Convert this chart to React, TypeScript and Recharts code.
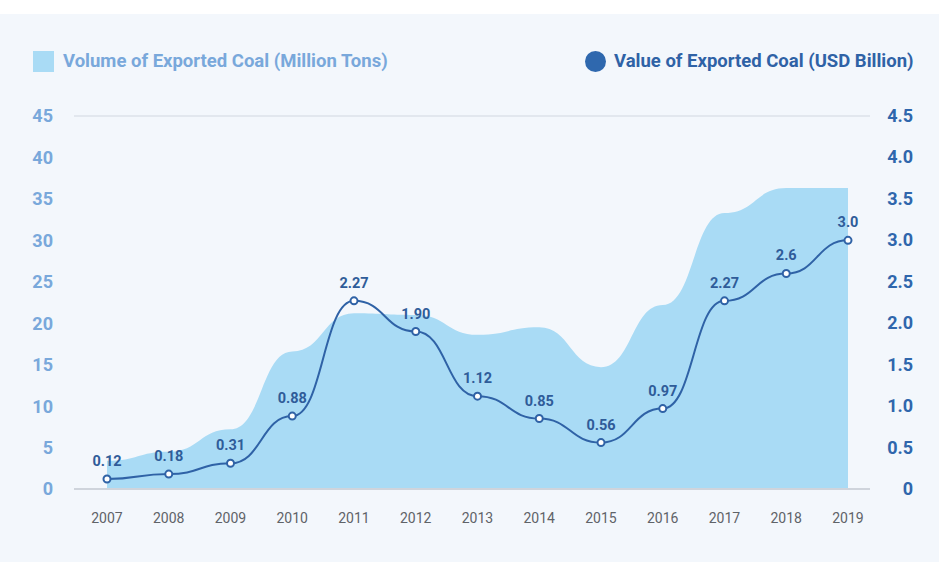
import {
  Area,
  CartesianGrid,
  ComposedChart,
  Line,
  XAxis,
  YAxis,
} from 'recharts';

const years = ['2007', '2008', '2009', '2010', '2011', '2012', '2013', '2014', '2015', '2016', '2017', '2018', '2019'];
const volume = [3.4, 4.5, 7.2, 16.6, 21.2, 21, 18.6, 19.5, 14.7, 22.2, 33.3, 36.3, 36.3];
const value = [0.12, 0.18, 0.31, 0.88, 2.27, 1.9, 1.12, 0.85, 0.56, 0.97, 2.27, 2.6, 3.0];
const valueLabels = ['0.12', '0.18', '0.31', '0.88', '2.27', '1.90', '1.12', '0.85', '0.56', '0.97', '2.27', '2.6', '3.0'];
const leftTicks = [0, 5, 10, 15, 20, 25, 30, 35, 40, 45];
const rightTicks = [0, 0.5, 1, 1.5, 2, 2.5, 3, 3.5, 4, 4.5];

const chartData = years.map((y, i) => ({
  year: y,
  volume: volume[i],
  value: value[i],
}));

const FONT = 'Roboto, "Noto Sans", sans-serif';
const AREA_COLOR = '#a9dbf5';
const LINE_COLOR = '#2f62a6';

function RightTick(props: any) {
  const { y, payload } = props;
  const v = payload.value;
  const text = v === 0 ? '0' : v.toFixed(1);
  return (
    <text x={913} y={y} dy={6} textAnchor='end' fill='#2f66ac' fontSize={18} fontWeight={700} fontFamily={FONT}>
      {text}
    </text>
  );
}

function ValueLabel(props: any) {
  const { x, y, index } = props;
  return (
    <text x={x} y={y - 13} textAnchor='middle' fill='#2f5c99' fontSize={14.5} fontWeight={700} fontFamily={FONT}>
      {valueLabels[index]}
    </text>
  );
}

export default function App() {
  return (
    <div style={{ position: 'fixed', top: 0, left: 0, width: 939, height: 562, background: '#ffffff', fontFamily: FONT }}>
      <div style={{ position: 'absolute', top: 14, left: 0, width: 939, height: 548, background: '#f3f7fc' }}>
        <div style={{ position: 'absolute', left: 33, top: 36, display: 'flex', alignItems: 'center' }}>
          <div style={{ width: 21, height: 21, background: AREA_COLOR }} />
          <span style={{ marginLeft: 9, color: '#79a8db', fontSize: 18.5, fontWeight: 700 }}>
            Volume of Exported Coal (Million Tons)
          </span>
        </div>
        <div style={{ position: 'absolute', left: 585, top: 36, display: 'flex', alignItems: 'center' }}>
          <div style={{ width: 21, height: 21, borderRadius: '50%', background: '#2f68ae' }} />
          <span style={{ marginLeft: 8, color: '#2f62a6', fontSize: 18.5, fontWeight: 700 }}>
            Value of Exported Coal (USD Billion)
          </span>
        </div>
        <ComposedChart
          width={939}
          height={548}
          data={chartData}
          margin={{ top: 102, right: 0, bottom: 43, left: 0 }}
        >
          <CartesianGrid vertical={false} stroke='#dde2ea' strokeWidth={1.5} />
          <XAxis
            dataKey='year'
            padding={{ left: 33, right: 22 }}
            axisLine={{ stroke: '#cfd4dc', strokeWidth: 2 }}
            tickLine={false}
            tickSize={0}
            tickMargin={24}
            height={30}
            tick={{ fill: '#5f6368', fontSize: 14, fontFamily: FONT }}
          />
          <YAxis
            yAxisId='left'
            domain={[0, 45]}
            ticks={leftTicks}
            width={74}
            axisLine={false}
            tickLine={false}
            tickSize={0}
            tickMargin={21}
            tick={{ fill: '#79a8db', fontSize: 18, fontWeight: 700, fontFamily: FONT }}
          />
          <YAxis
            yAxisId='right'
            orientation='right'
            domain={[0, 4.5]}
            ticks={rightTicks}
            width={69}
            axisLine={false}
            tickLine={false}
            tick={<RightTick />}
          />
          <Area
            yAxisId='left'
            type='bumpX'
            dataKey='volume'
            stroke='none'
            fill={AREA_COLOR}
            fillOpacity={1}
            isAnimationActive={false}
          />
          <Line
            yAxisId='right'
            type='bumpX'
            dataKey='value'
            stroke={LINE_COLOR}
            strokeWidth={2}
            dot={{ r: 3.5, fill: '#ffffff', stroke: LINE_COLOR, strokeWidth: 2 }}
            label={<ValueLabel />}
            isAnimationActive={false}
          />
        </ComposedChart>
      </div>
    </div>
  );
}
